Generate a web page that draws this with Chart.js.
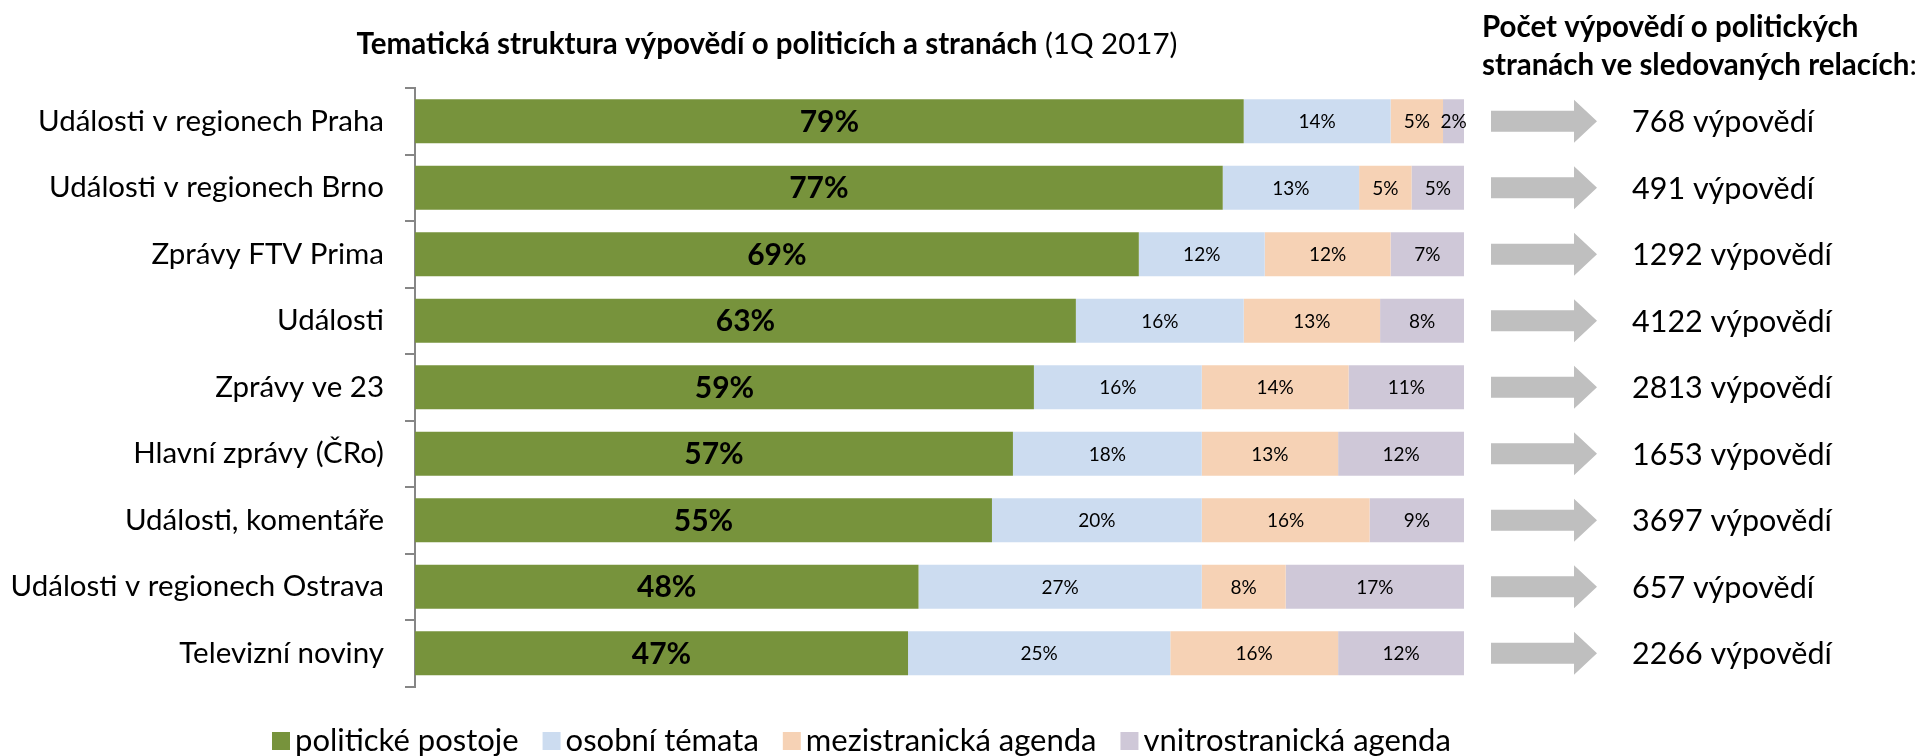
<!DOCTYPE html>
<html>
<head>
<meta charset="utf-8">
<script src="https://cdn.jsdelivr.net/npm/chart.js@4"></script>
<style>
  html, body { margin: 0; padding: 0; background: #fff; }
  #wrap { width: 1924px; height: 756px; position: relative; }
</style>
</head>
<body>
<div id="wrap"><canvas id="chart" width="1924" height="756"></canvas></div>
<script>
// Chart data
const categories = [
    "Události v regionech Praha",
    "Události v regionech Brno",
    "Zprávy FTV Prima",
    "Události",
    "Zprávy ve 23",
    "Hlavní zprávy (ČRo)",
    "Události, komentáře",
    "Události v regionech Ostrava",
    "Televizní noviny"
];
const politicalStances = [79, 77, 69, 63, 59, 57, 55, 48, 47];
const personalTopics = [14, 13, 12, 16, 16, 18, 20, 27, 25];
const interPartyAgenda = [5, 5, 12, 13, 14, 13, 16, 8, 16];
const intraPartyAgenda = [2, 5, 7, 8, 11, 12, 9, 17, 12];
const statementCounts = [768, 491, 1292, 4122, 2813, 1653, 3697, 657, 2266];

const FONT = "Lato, 'Open Sans', sans-serif";

// Labels inside bars, titles, arrows and legend
const extrasPlugin = {
    id: "extras",
    afterDatasetsDraw(chart) {
        const ctx = chart.ctx;
        ctx.save();
        ctx.textBaseline = "middle";
        ctx.textAlign = "center";
        ctx.fillStyle = "#000";

        // value labels
        chart.data.datasets.forEach((ds, di) => {
            const meta = chart.getDatasetMeta(di);
            meta.data.forEach((bar, i) => {
                const v = ds.data[i];
                const cx = (bar.x + bar.base) / 2;
                ctx.font = di === 0 ? "bold 30px " + FONT : "19px " + FONT;
                ctx.fillText(v + "%", cx, bar.y + 1);
            });
        });

        // title
        ctx.textAlign = "left";
        const tf = 29.5;
        ctx.font = "bold " + tf + "px " + FONT;
        const t1 = "Tematická struktura výpovědí o politicích a stranách";
        const t2 = " (1Q 2017)";
        const w1 = ctx.measureText(t1).width;
        ctx.font = tf + "px " + FONT;
        const w2 = ctx.measureText(t2).width;
        let tx = 767 - (w1 + w2) / 2;
        ctx.font = "bold " + tf + "px " + FONT;
        ctx.fillText(t1, tx, 44);
        ctx.font = tf + "px " + FONT;
        ctx.fillText(t2, tx + w1, 44);

        // right header
        ctx.font = "bold 29.5px " + FONT;
        ctx.fillText("Počet výpovědí o politických", 1482, 27);
        const h2 = "stranách ve sledovaných relacích";
        ctx.fillText(h2, 1482, 65);
        const hw = ctx.measureText(h2).width;
        ctx.font = "29.5px " + FONT;
        ctx.fillText(":", 1482 + hw, 65);

        // arrows and counts
        const yScale = chart.scales.y;
        statementCounts.forEach((n, i) => {
            const y = yScale.getPixelForValue(i);
            ctx.fillStyle = "#bfbfbf";
            ctx.beginPath();
            ctx.moveTo(1491, y - 10.5);
            ctx.lineTo(1574, y - 10.5);
            ctx.lineTo(1574, y - 21.5);
            ctx.lineTo(1597, y);
            ctx.lineTo(1574, y + 21.5);
            ctx.lineTo(1574, y + 10.5);
            ctx.lineTo(1491, y + 10.5);
            ctx.closePath();
            ctx.fill();
            ctx.fillStyle = "#000";
            ctx.font = "30.5px " + FONT;
            ctx.fillText(n + " výpovědí", 1632, y + 1);
        });

        // legend
        let lx = 272;
        const ly = 741;
        ctx.font = "31px " + FONT;
        chart.data.datasets.forEach((ds) => {
            ctx.fillStyle = ds.backgroundColor;
            ctx.fillRect(lx, ly - 9, 18, 18);
            ctx.fillStyle = "#000";
            ctx.fillText(ds.label, lx + 23, ly);
            lx += 23 + ctx.measureText(ds.label).width + 24;
        });

        ctx.restore();
    }
};

const ctx = document.getElementById("chart").getContext("2d");
const chart = new Chart(ctx, {
    type: "bar",
    data: {
        labels: categories,
        datasets: [
            { label: "politické postoje", data: politicalStances, backgroundColor: "#77933c" },
            { label: "osobní témata", data: personalTopics, backgroundColor: "#ccdcf0" },
            { label: "mezistranická agenda", data: interPartyAgenda, backgroundColor: "#f6d2b5" },
            { label: "vnitrostranická agenda", data: intraPartyAgenda, backgroundColor: "#cfc8d8" }
        ]
    },
    options: {
        indexAxis: "y",
        responsive: false,
        animation: false,
        layout: { padding: { top: 88, bottom: 69.5, right: 460, left: 0 } },
        datasets: { bar: { barPercentage: 0.66, categoryPercentage: 1.0 } },
        plugins: {
            legend: { display: false },
            tooltip: { enabled: false }
        },
        scales: {
            x: { stacked: true, min: 0, max: 100, display: false },
            y: {
                stacked: true,
                afterFit(scale) { scale.width = 415; },
                border: { display: true, color: "#868686", width: 2 },
                grid: { drawOnChartArea: false, drawTicks: true, tickLength: 10, color: "#868686", lineWidth: 2 },
                ticks: { color: "#000", padding: 21, font: { family: FONT, size: 29.5 } }
            }
        }
    },
    plugins: [extrasPlugin]
});
</script>
</body>
</html>
